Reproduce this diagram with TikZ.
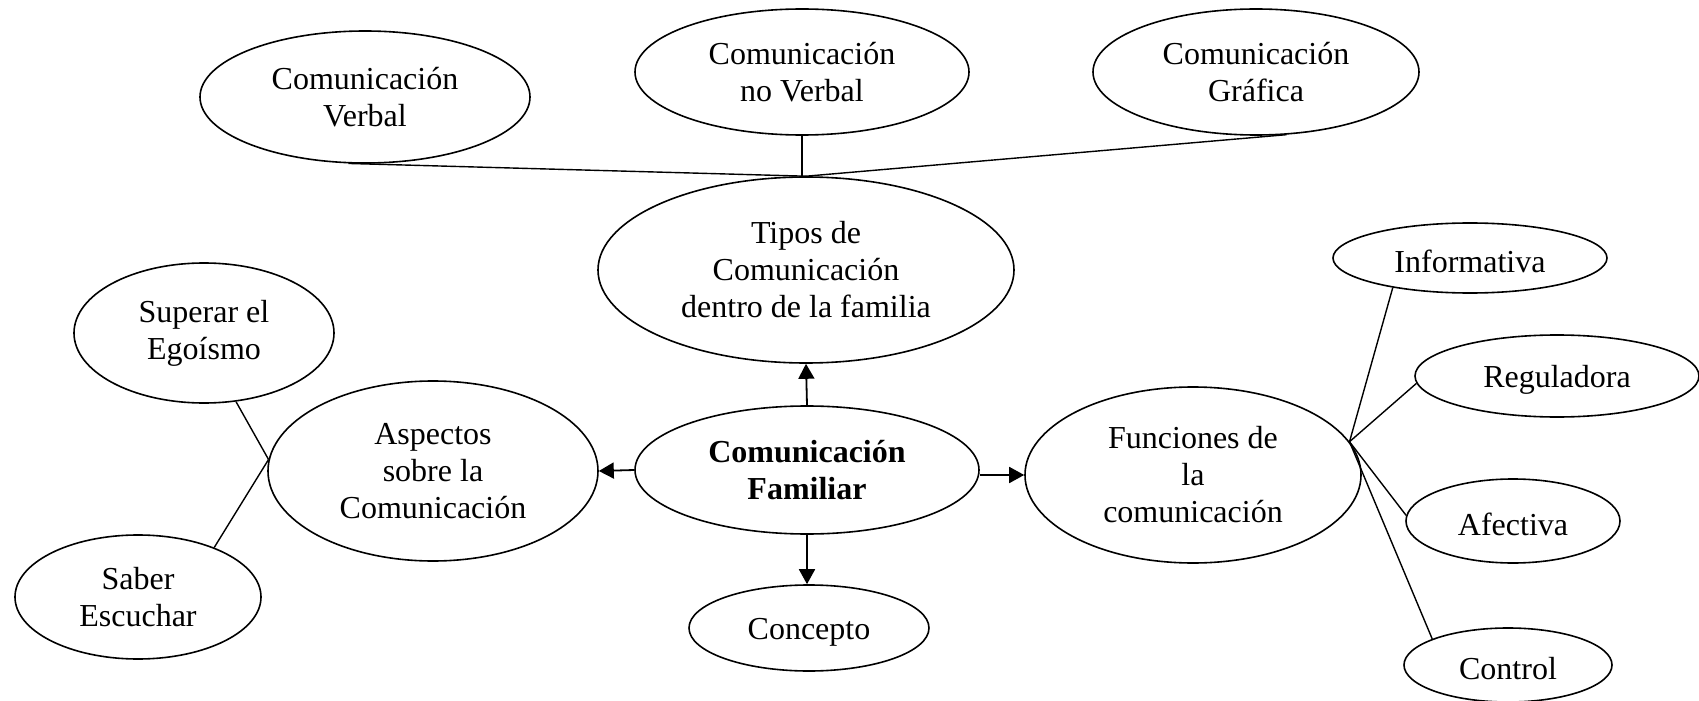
\documentclass[tikz,border=0pt]{standalone}
\usepackage{fontspec}
\setmainfont{Liberation Serif}
\usetikzlibrary{shapes.geometric,arrows.meta}
\begin{document}
\begin{tikzpicture}[x=0.5pt,y=-0.5pt,
  bub/.style={draw,ellipse,line width=0.8pt,inner sep=0pt,align=center,
    font=\fontsize{16}{18.5}\selectfont,
    execute at begin node={\rule{0pt}{14.5pt}}},
  sz/.style 2 args={minimum width=#1*0.5pt,minimum height=#2*0.5pt},
  link/.style={line width=0.7pt},
  arr/.style={line width=0.9pt,-{Triangle[length=7.5pt,width=8pt]}}]
\useasboundingbox (0,0) rectangle (1699,701);
\node[bub,sz={330}{132}] (verbal) at (365,97) {Comunicación\\Verbal};
\node[bub,sz={334}{126}] (noverbal) at (802,72) {Comunicación\\no Verbal};
\node[bub,sz={326}{126}] (grafica) at (1256,72) {Comunicación\\Gráfica};
\node[bub,sz={416}{186}] (tipos) at (806,270) {Tipos de\\Comunicación\\dentro de la familia};
\node[bub,sz={260}{140}] (superar) at (204,333) {Superar el\\Egoísmo};
\node[bub,sz={246}{124}] (saber) at (138,597) {Saber\\Escuchar};
\node[bub,sz={330}{180}] (aspectos) at (433,471) {Aspectos\\sobre la\\Comunicación};
\node[bub,sz={344}{128},font=\fontsize{16}{18.5}\selectfont\bfseries] (familiar) at (807,470) {Comunicación\\Familiar};
\node[bub,sz={336}{176}] (funciones) at (1193,475) {Funciones de\\la\\comunicación};
\node[bub,sz={240}{86}] (concepto) at (809,628) {Concepto};
\node[bub,sz={274}{70}] (informativa) at (1470,258) {Informativa};
\node[bub,sz={284}{82}] (reguladora) at (1557,376) {Reguladora};
\node[bub,sz={214}{84}] (afectiva) at (1513,521) {Afectiva};
\node[bub,sz={208}{74}] (control) at (1508,665) {Control};
% top links
\draw[link] (verbal.-104) -- (tipos.north);
\draw[link] (noverbal.south) -- (noverbal.south |- tipos.north);
\draw[link] (grafica.-64) -- (tipos.north);
% left links
\draw[link] (superar.-65) -- (aspectos.176);
\draw[link] (saber.33) -- (aspectos.176);
% right links
\draw[link] (funciones.12) -- (informativa.-159);
\draw[link] (funciones.12) -- (reguladora.183);
\draw[link] (funciones.12) -- (afectiva.177);
\draw[link] (funciones.12) -- (control.161);
% arrows
\draw[arr] (familiar.north) -- (tipos.south);
\draw[arr] (familiar.west) -- (aspectos.east);
\draw[arr] (familiar.east |- funciones.west) -- (funciones.west);
\draw[arr] (familiar.south) -- (familiar.south |- concepto.north);
\end{tikzpicture}
\end{document}
